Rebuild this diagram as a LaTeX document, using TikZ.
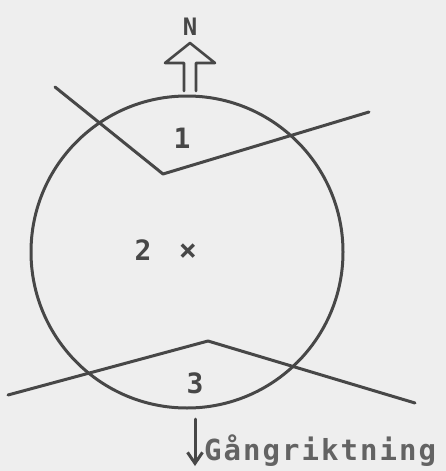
\documentclass[tikz,border=0pt]{standalone}
\usepackage{fontspec}
\usetikzlibrary{arrows.meta}
\newfontfamily\typefont{DejaVu Sans Mono Bold}
\newfontfamily\widefont[LetterSpace=7]{DejaVu Sans Mono Bold}
\definecolor{ink}{HTML}{474747}
\definecolor{paper}{HTML}{EEEEEE}
\begin{document}
\begin{tikzpicture}[x=1pt, y=-1pt, line join=round, line cap=round,
  stroke/.style={draw=ink, line width=3pt},
  lbl/.style={font=\typefont\fontsize{28}{28}\selectfont, text=ink, inner sep=0pt}]
% paper
\fill[paper] (0,0) rectangle (446,471);
\useasboundingbox (0,0) rectangle (446,471);
% field and cut lines
\draw[stroke] (187,252) circle[radius=156];
\draw[stroke] (55,87) -- (163,174) -- (369,112);
\draw[stroke] (8,395) -- (208,341) -- (415,403);
% north arrow
\draw[stroke, line width=2.6pt] (184,91) -- (184,63) -- (165,63) -- (190,43) -- (215,63) -- (196,63) -- (196,91);
\node[lbl, font=\typefont\fontsize{24}{24}\selectfont] (north) at (190,27) {N};
% zone labels
\node[lbl] (z1) at (182,138) {1};
\node[lbl] (z2) at (143,250) {2};
\node[lbl, font=\typefont\fontsize{30}{30}\selectfont] (mid) at (188,252) {×};
\node[lbl] (z3) at (195,383) {3};
% walking direction
\coordinate (dirtop) at (195,419);
\coordinate (dirtip) at (195,466);
\draw[stroke, -{Straight Barb[length=11pt, width=15pt, line width=3pt]}] (dirtop) -- (dirtip);
\node[lbl, anchor=west, font=\widefont\fontsize{29}{29}\selectfont, text=ink!85] (walk) at (204,451) {Gångriktning};
\end{tikzpicture}
\end{document}
